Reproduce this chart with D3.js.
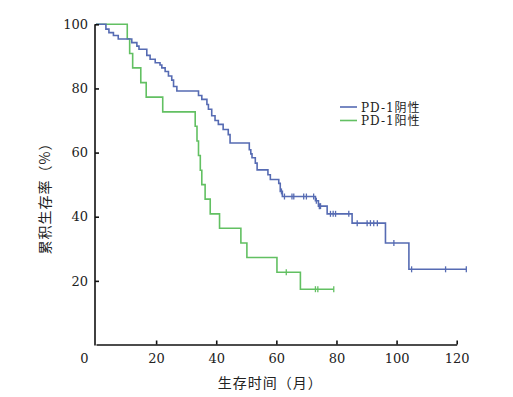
<!DOCTYPE html>
<html>
<head>
<meta charset="utf-8">
<script src="https://cdn.jsdelivr.net/npm/d3@7"></script>
<style>
  html, body { margin: 0; padding: 0; background: #ffffff; }
  svg { display: block; }
</style>
</head>
<body>
<svg id="chart" width="513" height="397"></svg>
<script>
// ---- Data ----
// PD-1 negative group (blue): event times (months) and survival (%) after each event
const negTimes = [3.3, 4.3, 5.8, 7.4, 11.9, 13.6, 14.3, 16.9, 18.0, 19.7, 21.3, 21.9, 23.0, 24.1, 25.2, 25.8, 26.9,
                  34.1, 35.2, 36.9, 37.4, 38.5, 39.6, 40.7, 42.3, 44.0, 44.6, 51.0, 51.5, 51.9, 53.0, 53.6,
                  57.2, 58.0, 60.8, 61.3, 62.0, 73.0, 74.0, 76.9, 85.2, 96.3, 104.1];
const negSurv  = [98.5, 97.4, 96.5, 95.4, 94.3, 93.2, 92.2, 90.3, 89.1, 88.0, 87.3, 86.4, 85.3, 83.9, 82.6, 80.6, 79.2,
                  77.8, 76.6, 75.0, 73.5, 71.5, 70.0, 68.8, 67.2, 65.6, 63.0, 60.9, 59.6, 58.4, 56.7, 54.6,
                  53.1, 51.6, 50.4, 47.9, 46.3, 45.0, 43.3, 40.9, 38.0, 31.8, 23.6];
const negCensor = [61.7, 62.7, 65.2, 65.8, 69.1, 70.0, 72.4, 73.3, 74.3, 74.7, 78.0, 78.9, 79.7, 84.1,
                   86.9, 90.2, 91.3, 92.4, 93.6, 99.1, 105.0, 116.3, 123.2];
const negEnd = 123.2;

// PD-1 positive group (green)
const posTimes = [10.4, 11.2, 12.2, 14.9, 16.7, 22.2, 33.0, 33.6, 34.1, 34.7, 35.2, 36.3, 38.0, 41.1, 48.2, 50.2, 60.2, 68.0];
const posSurv  = [95.5, 90.9, 86.4, 81.8, 77.3, 72.7, 68.2, 63.6, 59.1, 54.5, 50.0, 45.5, 40.9, 36.4, 31.8, 27.3, 22.7, 17.4];
const posCensor = [63.3, 73.0, 73.8, 79.1];
const posEnd = 79.1;

const xTicks = [0, 20, 40, 60, 80, 100, 120];
const yTicks = [20, 40, 60, 80, 100];
const seriesNames = ["PD-1阴性", "PD-1阳性"];
const seriesColors = ["#566bb3", "#62c062"];
const xTitle = "生存时间（月）";
const yTitle = "累积生存率（%）";

// ---- Drawing ----
const svg = d3.select("#chart");
const x = d3.scaleLinear().domain([0, 120]).range([96, 456.7]);
const y = d3.scaleLinear().domain([0, 100]).range([345, 24.3]);

const numFont = "'DejaVu Serif', serif";
const cjkFont = "'Noto Sans CJK SC', sans-serif";
const legendFont = "'DejaVu Serif', 'Noto Sans CJK SC', serif";

function stepPoints(times, surv, end) {
  const pts = [[0, 100]];
  times.forEach((t, i) => pts.push([t, surv[i]]));
  pts.push([end, surv[surv.length - 1]]);
  return pts;
}
function survAt(times, surv, t) {
  let s = 100;
  for (let i = 0; i < times.length; i++) if (times[i] <= t) s = surv[i];
  return s;
}

const line = d3.line().x(d => x(d[0])).y(d => y(d[1])).curve(d3.curveStepAfter);

const groups = [
  {times: negTimes, surv: negSurv, censor: negCensor, end: negEnd, color: seriesColors[0]},
  {times: posTimes, surv: posSurv, censor: posCensor, end: posEnd, color: seriesColors[1]}
];

[groups[1], groups[0]].forEach(g => {
  svg.append("path")
    .attr("d", line(stepPoints(g.times, g.surv, g.end)))
    .attr("fill", "none")
    .attr("stroke", g.color)
    .attr("stroke-width", 1.6);
  svg.append("g").selectAll("line")
    .data(g.censor)
    .join("line")
    .attr("x1", d => x(d)).attr("x2", d => x(d))
    .attr("y1", d => y(survAt(g.times, g.surv, d)) - 3)
    .attr("y2", d => y(survAt(g.times, g.surv, d)) + 3)
    .attr("stroke", g.color)
    .attr("stroke-width", 1.3);
});

// axes
const xAxis = svg.append("g")
  .attr("transform", `translate(0,${y(0) - 0.5})`)
  .call(d3.axisBottom(x).tickValues(xTicks).tickSize(-4).tickSizeOuter(0).tickPadding(9));
const yAxis = svg.append("g")
  .attr("transform", `translate(${x(0) - 1},0)`)
  .call(d3.axisLeft(y).tickValues(yTicks).tickSize(-4).tickSizeOuter(0).tickPadding(7));

[xAxis, yAxis].forEach(a => {
  a.select(".domain").attr("stroke", "#111").attr("stroke-width", 1.6);
  a.selectAll(".tick line").attr("stroke", "#111").attr("stroke-width", 1.6);
  a.selectAll(".tick text")
    .attr("font-family", numFont)
    .attr("font-size", 13)
    .attr("fill", "#222");
});
// the origin label sits left of the corner
xAxis.selectAll(".tick").filter(d => d === 0).select("text").attr("dx", -12);
xAxis.selectAll(".tick").filter(d => d === 0).select("line").remove();
yAxis.select(".domain").attr("d", `M0,${y(100)}V${y(0) + 0.5}`);

// axis titles
svg.append("text")
  .attr("x", (x(0) + x(120)) / 2 - 6)
  .attr("y", 388)
  .attr("text-anchor", "middle")
  .attr("font-family", cjkFont)
  .attr("font-size", 14)
  .attr("letter-spacing", 1)
  .attr("fill", "#222")
  .text(xTitle);
svg.append("text")
  .attr("transform", `translate(50,${195}) rotate(-90)`)
  .attr("text-anchor", "middle")
  .attr("font-family", cjkFont)
  .attr("font-size", 14)
  .attr("letter-spacing", 1)
  .attr("fill", "#222")
  .text(yTitle);

// legend
const legend = svg.append("g");
seriesNames.forEach((name, i) => {
  const ly = 107 + i * 13.5;
  legend.append("line")
    .attr("x1", 340).attr("x2", 357)
    .attr("y1", ly).attr("y2", ly)
    .attr("stroke", seriesColors[i]).attr("stroke-width", 1.6);
  legend.append("text")
    .attr("x", 361).attr("y", ly + 4.5)
    .attr("font-family", legendFont)
    .attr("font-size", 12)
    .attr("letter-spacing", 1)
    .attr("fill", "#222")
    .text(name);
});
</script>
</body>
</html>
